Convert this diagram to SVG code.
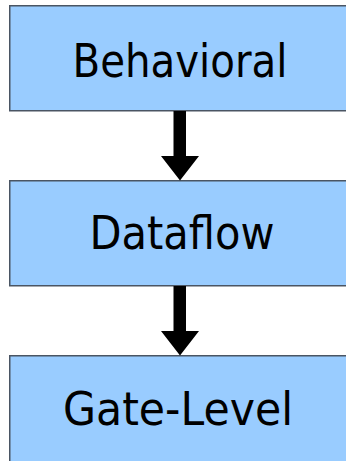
<svg xmlns="http://www.w3.org/2000/svg" width="346" height="461" viewBox="0 0 346 461">
  <style>
    .box { fill: #99CCFF; stroke: #4a5563; stroke-width: 1.5; }
    .label { font-family: "Comic Sans MS", "DejaVu Sans", sans-serif; font-size: 46px; fill: #000; text-anchor: middle; }
    .arrow { fill: #000; }
  </style>
  <rect width="346" height="461" fill="#fff"/>
  <g id="behavioral">
    <rect class="box" x="9.75" y="5.75" width="345" height="105"/>
    <text class="label" x="180" y="77" textLength="215" lengthAdjust="spacingAndGlyphs">Behavioral</text>
  </g>
  <g id="dataflow">
    <rect class="box" x="9.75" y="180.75" width="345" height="105"/>
    <text class="label" x="182" y="249" textLength="185" lengthAdjust="spacingAndGlyphs">Dataflow</text>
  </g>
  <g id="gate-level">
    <rect class="box" x="9.75" y="355.75" width="345" height="120"/>
    <text class="label" x="178" y="425" textLength="230" lengthAdjust="spacingAndGlyphs">Gate-Level</text>
  </g>
  <g id="connectors">
    <polygon class="arrow" points="173.5,111 186,111 186,156 199,156 180,180.5 161,156 173.5,156"/>
    <polygon class="arrow" points="173.5,286 186,286 186,331 199,331 180,355.5 161,331 173.5,331"/>
  </g>
</svg>
